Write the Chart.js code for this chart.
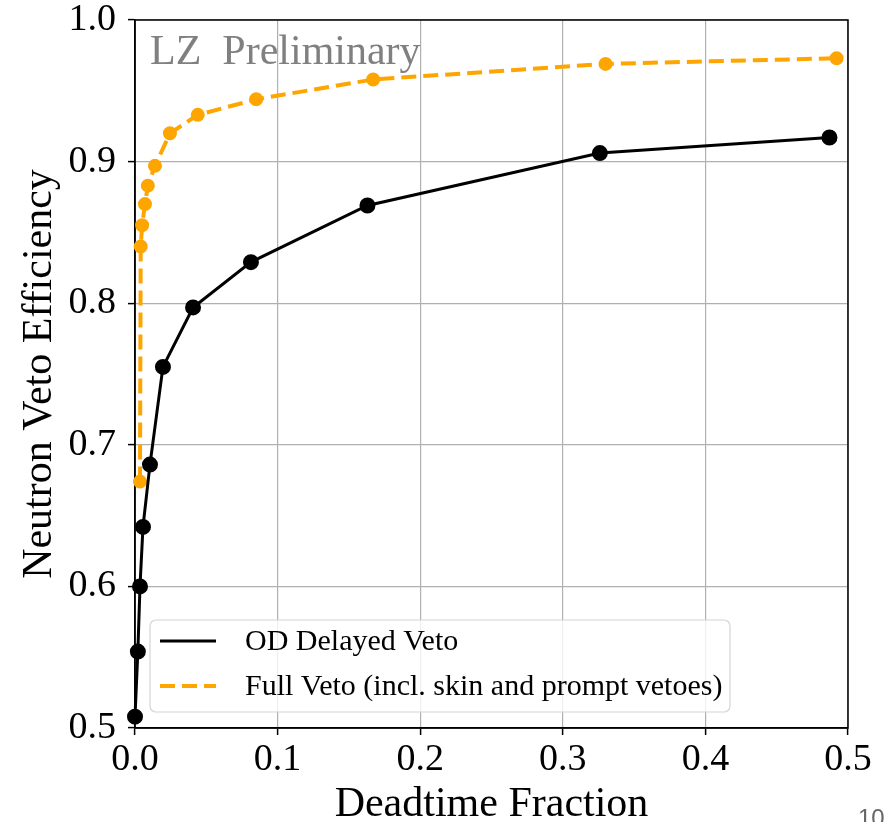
<!DOCTYPE html>
<html lang="en">
<head>
  <meta charset="UTF-8">
  <title>Neutron Veto Efficiency</title>
  <script src="https://cdn.jsdelivr.net/npm/chart.js"></script>
  <style>
    html, body { margin: 0; padding: 0; background: #fff; overflow: hidden; }
    #wrap { position: relative; width: 885px; height: 822px; }
    #pageNum {
      position: absolute; left: 858px; top: 804px;
      font-family: "Liberation Sans", Arial, sans-serif; font-size: 24px; color: #666;
    }
  </style>
</head>
<body>
  <div id="wrap">
    <canvas id="vetoChart" width="885" height="822"></canvas>
    <div id="pageNum">10</div>
  </div>

  <script>
    // values
    const odDeadtime   = [0.0, 0.002, 0.0035, 0.0056, 0.0105, 0.0196, 0.0407, 0.0813, 0.163, 0.326, 0.487];
    const odEfficiency = [0.508, 0.554, 0.600, 0.642, 0.686, 0.755, 0.797, 0.829, 0.869, 0.906, 0.917];

    const fullDeadtime   = [0.0035, 0.004, 0.005, 0.007, 0.009, 0.014, 0.0245, 0.044, 0.085, 0.167, 0.33, 0.492];
    const fullEfficiency = [0.674, 0.840, 0.855, 0.870, 0.883, 0.897, 0.920, 0.933, 0.944, 0.958, 0.969, 0.973];

    const xTicks = [0.0, 0.1, 0.2, 0.3, 0.4, 0.5];
    const yTicks = [0.5, 0.6, 0.7, 0.8, 0.9, 1.0];

    const SERIF = '"Liberation Serif", "Times New Roman", serif';

    function toPoints(xs, ys) {
      return xs.map((x, i) => ({ x: x, y: ys[i] }));
    }

    // top/right spines + "LZ Preliminary" + legend box inside the axes
    const frameAndLegend = {
      id: 'frameAndLegend',
      beforeDatasetsDraw(chart) {
        const { ctx, chartArea: a } = chart;
        ctx.save();
        ctx.strokeStyle = '#000';
        ctx.lineWidth = 1.5;
        ctx.strokeRect(a.left, a.top, a.right - a.left, a.bottom - a.top);
        ctx.fillStyle = '#808080';
        ctx.font = '42px ' + SERIF;
        ctx.textBaseline = 'alphabetic';
        ctx.fillText('LZ  Preliminary', a.left + 15, a.top + 44);
        ctx.restore();
      },
      afterDraw(chart) {
        const { ctx, chartArea: a } = chart;
        const x0 = a.left + 15, y0 = 620, w = 580, h = 92, r = 6;
        ctx.save();
        ctx.beginPath();
        ctx.roundRect(x0, y0, w, h, r);
        ctx.fillStyle = 'rgba(255,255,255,0.8)';
        ctx.fill();
        ctx.strokeStyle = '#d4d4d4';
        ctx.lineWidth = 1.2;
        ctx.stroke();

        ctx.font = '30px ' + SERIF;
        ctx.textBaseline = 'middle';
        chart.data.datasets.forEach((ds, i) => {
          const y = y0 + 21 + i * 45;
          ctx.beginPath();
          ctx.setLineDash(ds.borderDash || []);
          ctx.strokeStyle = ds.borderColor;
          ctx.lineWidth = ds.borderWidth;
          ctx.moveTo(x0 + 10, y);
          ctx.lineTo(x0 + 66, y);
          ctx.stroke();
          ctx.setLineDash([]);
          ctx.fillStyle = '#000';
          ctx.fillText(ds.label, x0 + 95, y + 1);
        });
        ctx.restore();
      }
    };

    new Chart(document.getElementById('vetoChart'), {
      type: 'scatter',
      data: {
        datasets: [
          {
            label: 'OD Delayed Veto',
            data: toPoints(odDeadtime, odEfficiency),
            showLine: true,
            borderColor: '#000',
            backgroundColor: '#000',
            borderWidth: 3,
            pointRadius: 6.5,
            pointHoverRadius: 6.5,
            clip: false
          },
          {
            label: 'Full Veto (incl. skin and prompt vetoes)',
            data: toPoints(fullDeadtime, fullEfficiency),
            showLine: true,
            borderColor: '#FFA500',
            backgroundColor: '#FFA500',
            borderWidth: 4,
            borderDash: [15, 7],
            pointRadius: 5,
            pointHoverRadius: 5,
            clip: false
          }
        ]
      },
      options: {
        responsive: false,
        animation: false,
        layout: { padding: { left: 0, right: 37, top: 20, bottom: 0 } },
        plugins: {
          legend: { display: false },
          tooltip: { enabled: false }
        },
        scales: {
          x: {
            type: 'linear',
            min: 0,
            max: 0.5,
            afterFit(scale) {
              scale.height = 94;
              scale.paddingLeft = 0;
              scale.paddingRight = 0;
            },
            afterBuildTicks(scale) { scale.ticks = xTicks.map(v => ({ value: v })); },
            ticks: {
              font: { family: SERIF, size: 38 },
              color: '#000',
              padding: 2,
              maxRotation: 0,
              callback: v => v.toFixed(1)
            },
            grid: { color: '#b0b0b0', lineWidth: 1.2, tickLength: 7, tickColor: '#000', tickWidth: 1.5 },
            border: { display: true, color: '#000', width: 1.5 },
            title: {
              display: true,
              text: 'Deadtime Fraction',
              color: '#000',
              font: { family: SERIF, size: 42, lineHeight: 0.8 },
              padding: { top: 0, bottom: 0 }
            }
          },
          y: {
            type: 'linear',
            min: 0.5,
            max: 1.0,
            afterFit(scale) {
              scale.width = 135;
              scale.paddingTop = 0;
              scale.paddingBottom = 0;
            },
            afterBuildTicks(scale) { scale.ticks = yTicks.map(v => ({ value: v })); },
            ticks: {
              font: { family: SERIF, size: 38 },
              color: '#000',
              padding: 12,
              callback: v => v.toFixed(1)
            },
            grid: { color: '#b0b0b0', lineWidth: 1.2, tickLength: 7, tickColor: '#000', tickWidth: 1.5 },
            border: { display: true, color: '#000', width: 1.5 },
            title: {
              display: true,
              text: 'Neutron Veto Efficiency',
              color: '#000',
              font: { family: SERIF, size: 42, lineHeight: 1.2 },
              padding: { top: 15, bottom: 0 }
            }
          }
        }
      },
      plugins: [frameAndLegend]
    });
  </script>
</body>
</html>
